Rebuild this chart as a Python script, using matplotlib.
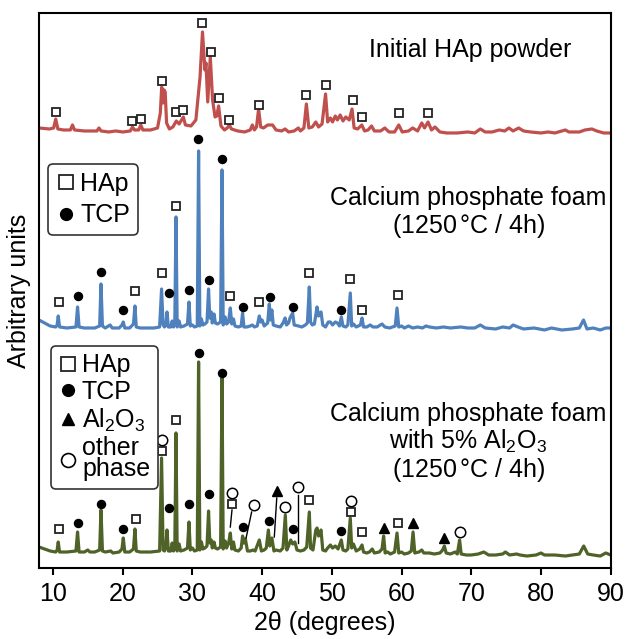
import matplotlib
matplotlib.use('Agg')
import matplotlib.pyplot as plt
from matplotlib.lines import Line2D

plt.rcParams['font.family'] = 'Liberation Sans'
plt.rcParams['mathtext.fontset'] = 'custom'
plt.rcParams['mathtext.rm'] = 'Liberation Sans'
plt.rcParams['mathtext.it'] = 'Liberation Sans:italic'

# ---- traces (2theta, stacked intensity in arbitrary units) ----
red_x = [8.0, 9.5, 10.1, 10.4, 10.7, 11.5, 12.5, 12.8, 13.1, 14.5, 16.3, 16.6, 16.9, 18.0, 19.0, 20.0,
         21.1, 21.4, 21.7, 22.3, 22.6, 22.9, 24.0, 25.0, 25.4, 25.6, 25.8, 25.95, 26.1, 26.3, 26.7,
         27.2, 27.7, 28.1, 28.7, 29.0, 29.8, 30.5, 31.1, 31.45, 31.8, 31.95, 32.2, 32.57, 32.9, 33.25,
         33.5, 33.76, 34.1, 34.6, 35.0, 35.3, 35.6, 36.5, 37.5, 38.3, 38.6, 38.9, 39.2, 39.5, 39.8,
         40.2, 40.8, 41.5, 42.0, 42.8, 43.3, 43.8, 44.6, 45.2, 45.5, 46.0, 46.35, 46.7, 47.2, 47.7,
         48.1, 48.6, 49.1, 49.4, 49.8, 50.1, 50.5, 50.8, 51.2, 51.6, 52.0, 52.5, 52.9, 53.2, 53.7,
         54.3, 54.7, 55.2, 55.7, 56.1, 57.0, 57.6, 58.2, 59.0, 59.6, 60.1, 61.0, 61.6, 62.3, 62.9,
         63.3, 63.8, 64.3, 64.8, 65.5, 66.5, 68.0, 69.5, 70.5, 71.3, 72.0, 73.0, 74.0, 74.8, 75.4,
         76.0, 76.8, 77.5, 78.5, 80.0, 81.0, 82.0, 83.0, 83.5, 84.0, 85.5, 86.3, 87.3, 88.0, 89.0, 90.0]
red_y = [440, 439, 440, 449, 439, 438, 438, 443, 438, 437, 437, 440, 437, 436, 437, 436,
         437, 441, 438, 438, 443, 438, 438, 440, 455, 481, 465, 478, 476, 445, 439,
         441, 447, 444, 451, 443, 442, 448, 491, 536, 498, 505, 466, 511, 468, 451,
         452, 462, 442, 438, 440, 443, 439, 437, 436, 438, 443, 438, 441, 459, 441,
         440, 443, 443, 438, 437, 439, 436, 437, 440, 437, 440, 464, 440, 441, 446,
         441, 444, 474, 446, 450, 446, 452, 448, 453, 447, 451, 448, 459, 440, 439,
         443, 437, 438, 442, 437, 437, 440, 436, 436, 443, 436, 437, 440, 437, 445,
         440, 446, 438, 441, 436, 435, 435, 436, 435, 439, 436, 436, 438, 437, 440,
         437, 440, 437, 436, 435, 436, 435, 437, 438, 436, 436, 438, 439, 437, 435, 435]

blue_x = [8.0, 8.8, 9.6, 10.4, 10.6, 10.76, 10.95, 12.0, 13.3, 13.53, 13.75, 14.5, 16.0, 16.7, 16.89,
          17.1, 17.5, 18.2, 18.5, 19.5, 19.9, 20.09, 20.3, 21.0, 21.55, 21.76, 21.95, 22.5, 23.5,
          24.5, 25.3, 25.58, 25.8, 26.0, 26.2, 26.36, 26.55, 26.9, 27.1, 27.3, 27.48, 27.65, 27.82,
          28.1, 28.3, 28.8, 29.3, 29.51, 29.7, 30.0, 30.3, 30.7, 30.89, 31.07, 31.3, 31.5, 31.8,
          32.1, 32.32, 32.5, 32.7, 32.85, 33.1, 33.3, 33.6, 34.05, 34.25, 34.42, 34.7, 34.9, 35.2,
          35.44, 35.65, 35.9, 36.1, 36.6, 37.0, 37.2, 37.4, 37.8, 38.3, 38.6, 38.9, 39.3, 39.6,
          39.8, 40.0, 40.3, 40.8, 41.03, 41.2, 41.4, 41.6, 42.0, 42.6, 43.0, 43.3, 43.5, 43.8,
          44.0, 44.38, 44.6, 45.2, 45.7, 46.2, 46.5, 46.77, 46.95, 47.2, 47.5, 47.88, 48.1, 48.45,
          48.7, 49.1, 49.5, 49.8, 50.1, 50.5, 50.8, 51.1, 51.36, 51.6, 52.0, 52.3, 52.65, 52.85,
          53.1, 53.5, 54.1, 54.33, 54.55, 55.0, 55.5, 55.9, 56.5, 57.2, 57.6, 58.3, 59.1, 59.35,
          59.6, 60.0, 60.4, 61.0, 61.6, 62.3, 63.0, 63.5, 64.0, 65.0, 66.0, 67.0, 68.5, 69.5,
          70.5, 71.3, 72.0, 73.5, 74.5, 75.5, 76.0, 76.7, 77.5, 79.0, 80.5, 81.5, 83.0, 84.5,
          85.5, 86.1, 86.6, 87.5, 88.5, 89.3, 90.0]
blue_y = [248, 245, 242, 241, 243, 252, 241, 240, 241, 261, 241, 240, 240, 242, 284,
          242, 240, 243, 240, 240, 243, 246, 240, 240, 244, 262, 241, 240, 240,
          240, 241, 279, 243, 241, 243, 256, 241, 241, 247, 241, 246, 351, 241,
          247, 241, 242, 244, 266, 242, 243, 241, 242, 417, 242, 249, 243, 244,
          246, 279, 250, 256, 245, 254, 245, 244, 246, 398, 243, 251, 244, 246,
          260, 244, 249, 242, 241, 242, 255, 241, 241, 242, 243, 241, 242, 252,
          246, 248, 242, 245, 264, 248, 258, 243, 242, 241, 245, 250, 243, 245,
          250, 255, 243, 242, 241, 243, 245, 281, 246, 243, 244, 261, 252, 256,
          243, 241, 246, 246, 243, 246, 245, 242, 251, 242, 241, 243, 275, 242,
          244, 241, 243, 250, 241, 241, 243, 241, 241, 244, 241, 240, 242, 260,
          241, 242, 240, 242, 240, 241, 240, 242, 241, 240, 241, 240, 241, 240,
          240, 243, 240, 239, 241, 240, 243, 241, 239, 240, 238, 240, 238, 239,
          240, 248, 239, 240, 238, 240, 240]

green_x = [8.0, 8.8, 9.6, 10.4, 10.6, 10.76, 10.95, 12.0, 13.3, 13.53, 13.75, 14.5, 15.0, 15.3, 16.0,
           16.7, 16.89, 17.1, 17.5, 18.3, 18.6, 19.5, 19.9, 20.09, 20.3, 21.0, 21.55, 21.76, 21.95,
           22.5, 24.0, 25.3, 25.58, 25.8, 26.0, 26.2, 26.36, 26.55, 26.9, 27.1, 27.3, 27.48, 27.65,
           27.82, 28.1, 28.3, 28.8, 29.3, 29.51, 29.7, 30.0, 30.3, 30.7, 30.89, 31.07, 31.3, 31.5,
           31.8, 32.1, 32.32, 32.5, 32.7, 32.85, 33.1, 33.3, 33.6, 34.05, 34.25, 34.42, 34.7, 34.9,
           35.2, 35.44, 35.65, 35.9, 36.1, 36.6, 37.0, 37.2, 37.4, 37.6, 37.9, 38.3, 38.7, 39.0,
           39.6, 39.9, 40.3, 40.6, 40.9, 41.1, 41.4, 41.7, 42.0, 42.6, 43.0, 43.33, 43.55, 43.8,
           44.1, 44.4, 44.7, 45.0, 45.5, 46.0, 46.4, 46.77, 46.95, 47.3, 47.7, 47.88, 48.1, 48.45,
           48.7, 49.1, 49.4, 49.8, 50.1, 50.5, 50.9, 51.36, 51.6, 52.0, 52.3, 52.65, 52.85, 53.1,
           53.5, 54.0, 54.33, 54.55, 55.0, 55.4, 55.8, 56.1, 56.8, 57.2, 57.43, 57.65, 58.0, 58.4,
           59.0, 59.35, 59.6, 60.0, 60.4, 61.0, 61.4, 61.65, 61.9, 62.5, 62.9, 63.2, 64.0, 64.7,
           65.5, 65.9, 66.14, 66.4, 67.0, 67.7, 68.0, 68.33, 68.55, 69.3, 70.0, 71.0, 71.8, 72.5,
           73.5, 74.5, 74.9, 75.5, 76.5, 77.0, 78.0, 79.3, 80.0, 80.5, 82.0, 83.5, 84.5, 85.5,
           86.13, 86.7, 87.5, 88.5, 89.3, 90.0]
green_y = [21, 19, 17, 16, 18, 26, 16, 16, 17, 36, 16, 16, 18, 16, 16,
           18, 58, 17, 16, 17, 15, 16, 19, 30, 16, 16, 19, 39, 17,
           16, 16, 17, 110, 18, 17, 22, 38, 17, 17, 25, 17, 22, 135,
           17, 24, 17, 18, 20, 46, 18, 20, 17, 18, 206, 18, 26, 19,
           20, 22, 57, 25, 28, 20, 26, 20, 19, 21, 190, 19, 27, 20,
           25, 35, 19, 26, 18, 17, 20, 32, 25, 29, 17, 17, 18, 17,
           28, 17, 18, 20, 38, 22, 30, 17, 18, 17, 20, 53, 18, 22,
           28, 24, 26, 18, 17, 18, 21, 56, 20, 18, 38, 40, 32, 38,
           18, 17, 20, 23, 20, 22, 19, 28, 18, 17, 19, 50, 20, 24,
           17, 19, 23, 16, 15, 16, 19, 15, 16, 19, 32, 15, 16, 14,
           16, 35, 15, 16, 14, 15, 17, 36, 15, 16, 18, 15, 15, 14,
           15, 18, 22, 15, 14, 16, 14, 28, 14, 13, 13, 14, 16, 13,
           13, 14, 16, 13, 14, 13, 12, 13, 15, 13, 13, 12, 13, 14,
           22, 14, 13, 12, 15, 13]

# ---- phase markers ----
red_hap_x = [10.4, 21.4, 22.6, 25.6, 27.7, 28.7, 31.4, 32.6, 33.8, 35.3, 39.5, 46.3, 49.1, 53.1, 54.3, 59.6, 63.8]
red_hap_y = [456, 447, 449, 487, 456, 458, 545, 516, 470, 448, 463, 473, 483, 468, 451, 455, 455]

blue_hap_x = [10.8, 21.8, 25.6, 27.65, 35.44, 39.6, 46.77, 52.55, 54.33, 59.5]
blue_hap_y = [266, 277, 295, 362, 272, 266, 295, 289, 258, 273]
blue_tcp_x = [13.53, 16.89, 20.09, 26.59, 29.51, 30.85, 32.32, 34.25, 37.2, 41.13, 44.38, 51.36]
blue_tcp_y = [272, 296, 258, 275, 278, 429, 288, 409, 261, 271, 261, 258]

green_hap_x = [10.8, 21.9, 25.58, 27.7, 35.68, 46.67, 52.75, 54.33, 59.5]
green_hap_y = [39, 49, 117, 148, 64, 68, 56, 36, 45]
green_tcp_x = [13.53, 16.89, 20.09, 26.6, 29.51, 30.89, 32.32, 34.25, 37.2, 41.03, 44.38, 51.36]
green_tcp_y = [45, 64, 39, 60, 64, 215, 74, 195, 41, 47, 39, 37]
green_al_x = [42.08, 57.5, 61.65, 66.14]
green_al_y = [77, 40, 45, 30]
green_other_x = [25.58, 35.68, 38.78, 43.33, 45.14, 52.75, 68.33]
green_other_y = [128, 75, 63, 61, 81, 67, 36]

# leader lines: (x0, x1), (y0, y1)
leaders = [((35.68, 35.44), (58, 41)),
           ((38.5, 37.7), (56, 30)),
           ((42.1, 41.75), (70, 31)),
           ((45.14, 45.14), (73, 25))]

red = '#C0504D'
blue = '#4F81BD'
green = '#4F6228'

fig = plt.figure(figsize=(6.27, 6.39), dpi=100)
ax = fig.add_axes([0.0622, 0.1111, 0.9118, 0.8686])

ax.plot(red_x, red_y, color=red, lw=2.3, solid_joinstyle='round')
ax.plot(blue_x, blue_y, color=blue, lw=2.3, solid_joinstyle='round')
ax.plot(green_x, green_y, color=green, lw=2.3, solid_joinstyle='round')

for (lx, ly) in leaders:
    ax.plot(lx, ly, color='black', lw=1.0)

sq = dict(ls='none', marker='s', ms=5.5, mfc='white', mec='#222222', mew=1.3)
dot = dict(ls='none', marker='o', ms=5.8, mfc='black', mec='black')
tri = dict(ls='none', marker='^', ms=6.5, mfc='black', mec='black')
circ = dict(ls='none', marker='o', ms=7.5, mfc='white', mec='black', mew=1.1)

ax.plot(red_hap_x, red_hap_y, **sq)
ax.plot(blue_hap_x, blue_hap_y, **sq)
ax.plot(blue_tcp_x, blue_tcp_y, **dot)
ax.plot(green_hap_x, green_hap_y, **sq)
ax.plot(green_tcp_x, green_tcp_y, **dot)
ax.plot(green_al_x, green_al_y, **tri)
ax.plot(green_other_x, green_other_y, **circ)

# sample labels
ax.text(69.9, 518, 'Initial HAp powder', fontsize=18, ha='center', va='center')
ax.text(69.6, 355, 'Calcium phosphate foam\n(1250$\\,$°C / 4h)', fontsize=18,
        ha='center', va='center', linespacing=1.1)
ax.text(69.6, 125, 'Calcium phosphate foam\nwith 5% Al$_2$O$_3$\n(1250$\\,$°C / 4h)', fontsize=18,
        ha='center', va='center', linespacing=1.07)

# legends
lsq = dict(marker='s', ls='none', ms=10, mfc='white', mec='#222222', mew=1.3)
ldot = dict(marker='o', ls='none', ms=8.5, mfc='black', mec='black')
ltri = dict(marker='^', ls='none', ms=9, mfc='black', mec='black')
lcirc = dict(marker='o', ls='none', ms=10, mfc='white', mec='black', mew=1.2)

leg1 = ax.legend([Line2D([], [], **lsq), Line2D([], [], **ldot)], ['HAp', 'TCP'],
                 loc='upper left', bbox_to_anchor=(0.0163, 0.728), borderaxespad=0,
                 fontsize=18, handlelength=0.8, handletextpad=0.15, labelspacing=0.3,
                 borderpad=0.32, frameon=True, fancybox=True, framealpha=1,
                 edgecolor='#333333')
leg1.get_frame().set_linewidth(1.2)
ax.add_artist(leg1)

leg2 = ax.legend([Line2D([], [], **lsq), Line2D([], [], **ldot), Line2D([], [], **ltri),
                  Line2D([], [], **lcirc)],
                 ['HAp', 'TCP', 'Al$_2$O$_3$', 'other\nphase'],
                 loc='upper left', bbox_to_anchor=(0.0205, 0.40), borderaxespad=0,
                 fontsize=18, handlelength=0.8, handletextpad=0.15, labelspacing=0.1,
                 borderpad=0.3, frameon=True, fancybox=True, framealpha=1,
                 edgecolor='#333333')
leg2.get_frame().set_linewidth(1.2)
leg2.get_texts()[3].set_linespacing(0.85)

ax.set_xlim(8, 90)
ax.set_ylim(0, 555)
ax.set_xticks([10, 20, 30, 40, 50, 60, 70, 80, 90])
ax.set_yticks([])
ax.tick_params(axis='x', direction='out', length=5, width=1.5, labelsize=18, pad=5)
for s in ax.spines.values():
    s.set_linewidth(1.5)
ax.set_xlabel('2θ (degrees)', fontsize=18, labelpad=4)
ax.set_ylabel('Arbitrary units', fontsize=18, labelpad=6)

plt.savefig('out.png', dpi=100)
